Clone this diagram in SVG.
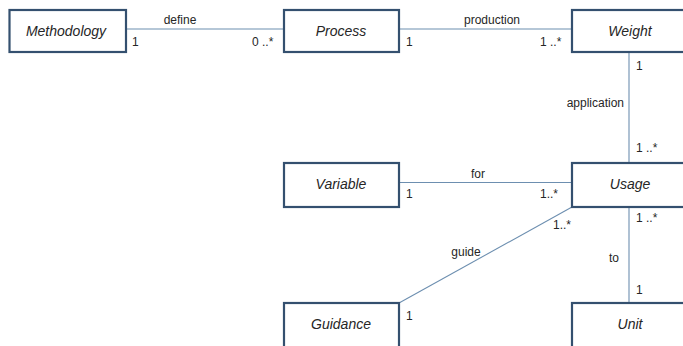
<svg xmlns="http://www.w3.org/2000/svg" width="683" height="346" viewBox="0 0 683 346">
<style>
.box{fill:#fff;stroke:#34506f;stroke-width:2.2}
.name{font-family:"Liberation Sans",Arial,sans-serif;font-style:italic;font-size:14px;fill:#262626;text-anchor:middle}
.lbl{font-family:"Liberation Sans",Arial,sans-serif;font-size:12px;fill:#262626}
.mid{text-anchor:middle}
.end{text-anchor:end}
.ln{stroke:#6d8fb0;stroke-width:1.1;fill:none}
</style>
<rect width="683" height="346" fill="#fff"/>
<g id="connectors">
<line class="ln" x1="126" y1="29" x2="284" y2="29"/>
<line class="ln" x1="399" y1="29" x2="572" y2="29"/>
<line class="ln" x1="629" y1="52" x2="629" y2="163"/>
<line class="ln" x1="399" y1="182.5" x2="572" y2="182.5"/>
<line class="ln" x1="399" y1="303" x2="572" y2="207"/>
<line class="ln" x1="629" y1="207" x2="629" y2="303"/>
<text class="lbl mid" x="180" y="24">define</text>
<text class="lbl" x="132" y="46">1</text>
<text class="lbl" x="252" y="46">0 ..*</text>
<text class="lbl mid" x="492" y="24">production</text>
<text class="lbl" x="406" y="46">1</text>
<text class="lbl" x="540" y="46">1 ..*</text>
<text class="lbl" x="636" y="70">1</text>
<text class="lbl end" x="624" y="107">application</text>
<text class="lbl" x="636" y="152">1 ..*</text>
<text class="lbl mid" x="478" y="178">for</text>
<text class="lbl" x="406" y="198">1</text>
<text class="lbl" x="540" y="198">1..*</text>
<text class="lbl" x="553" y="229">1..*</text>
<text class="lbl mid" x="466" y="256">guide</text>
<text class="lbl" x="406" y="320">1</text>
<text class="lbl" x="636" y="222">1 ..*</text>
<text class="lbl" x="609" y="262">to</text>
<text class="lbl" x="636" y="294">1</text>
</g>
<g id="node-methodology"><rect class="box" x="9.5" y="10" width="116.5" height="42"/><text class="name" x="66" y="36">Methodology</text></g>
<g id="node-process"><rect class="box" x="284" y="10" width="115" height="42"/><text class="name" x="341" y="36">Process</text></g>
<g id="node-weight"><rect class="box" x="572" y="10" width="120" height="42"/><text class="name" x="630" y="36">Weight</text></g>
<g id="node-variable"><rect class="box" x="284" y="163" width="115" height="44"/><text class="name" x="341" y="189">Variable</text></g>
<g id="node-usage"><rect class="box" x="572" y="163" width="120" height="44"/><text class="name" x="630" y="189">Usage</text></g>
<g id="node-guidance"><rect class="box" x="284" y="303" width="115" height="50"/><text class="name" x="341" y="329">Guidance</text></g>
<g id="node-unit"><rect class="box" x="572" y="303" width="120" height="50"/><text class="name" x="630" y="329">Unit</text></g>
</svg>
